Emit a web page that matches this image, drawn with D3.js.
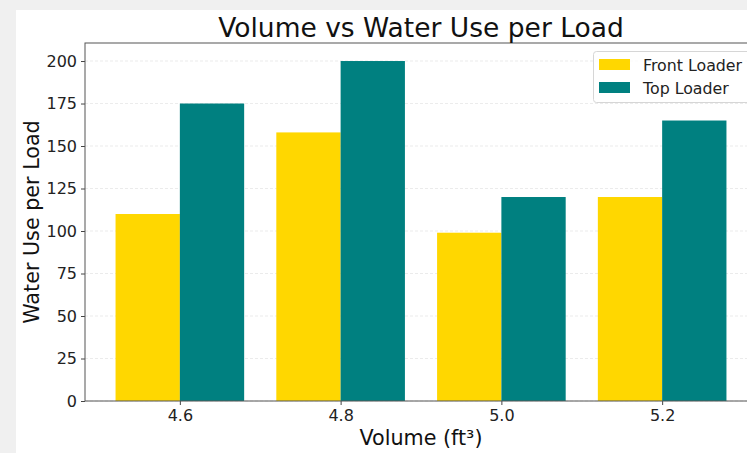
<!DOCTYPE html>
<html><head><meta charset="utf-8">
<script src="https://cdn.jsdelivr.net/npm/d3@7"></script>
<style>
html,body{margin:0;padding:0;background:#f0f0f0;}
svg{display:block;}
text{font-family:"DejaVu Sans",sans-serif;}
</style></head>
<body>
<script>
const categories = [4.6, 4.8, 5.0, 5.2];
const frontLoader = [110, 158, 99, 120];
const topLoader = [175, 200, 120, 165];
const yTicks = [0, 25, 50, 75, 100, 125, 150, 175, 200];
const seriesNames = ["Front Loader", "Top Loader"];
const colors = ["#FFD700", "#008080"];

const W = 747, H = 453;
const svg = d3.select("body").append("svg").attr("width", W).attr("height", H);
svg.append("rect").attr("x", 16).attr("y", 10).attr("width", W - 16).attr("height", H - 10).attr("fill", "#fff");

const m = {left: 85, top: 43, right: 757, bottom: 401};
const x = d3.scaleLinear().domain([4.482, 5.318]).range([m.left, m.right]);
const y = d3.scaleLinear().domain([0, 210.6]).range([m.bottom, m.top]);
const bw = 0.08;

const g = svg.append("g");
g.selectAll("line.grid").data(yTicks).enter().append("line")
  .attr("x1", m.left).attr("x2", m.right)
  .attr("y1", d => y(d)).attr("y2", d => y(d))
  .attr("stroke", "#e6e6e6").attr("stroke-width", 0.8).attr("stroke-dasharray", "3,2");

const series = [frontLoader, topLoader];
series.forEach((vals, si) => {
  const off = si === 0 ? -bw / 2 : bw / 2;
  g.selectAll("rect.s" + si).data(categories).enter().append("rect")
    .attr("x", (d) => x(d + off - bw / 2))
    .attr("width", (d) => x(d + off + bw / 2) - x(d + off - bw / 2))
    .attr("y", (d, i) => y(vals[i]))
    .attr("height", (d, i) => y(0) - y(vals[i]))
    .attr("fill", colors[si]);
});

const yAxis = d3.axisLeft(y).tickValues(yTicks).tickSize(4).tickPadding(4);
const ya = svg.append("g").attr("transform", `translate(${m.left},0)`).call(yAxis);
const xAxis = d3.axisBottom(x).tickValues(categories).tickFormat(d3.format(".1f")).tickSize(4).tickPadding(5);
const xa = svg.append("g").attr("transform", `translate(0,${m.bottom})`).call(xAxis);
[ya, xa].forEach(a => {
  a.select(".domain").remove();
  a.selectAll(".tick line").attr("stroke", "#444");
  a.selectAll(".tick text").attr("font-size", 16).attr("fill", "#222").attr("font-family", "DejaVu Sans");
});
svg.append("rect").attr("x", m.left).attr("y", m.top).attr("width", m.right - m.left).attr("height", m.bottom - m.top)
  .attr("fill", "none").attr("stroke", "#555").attr("stroke-width", 1);

svg.append("text").attr("x", (m.left + m.right) / 2).attr("y", 37).attr("text-anchor", "middle")
  .attr("font-size", 26.5).attr("fill", "#111").text("Volume vs Water Use per Load");
svg.append("text").attr("x", (m.left + m.right) / 2).attr("y", 445).attr("text-anchor", "middle")
  .attr("font-size", 20.7).attr("fill", "#111").text("Volume (ft³)");
svg.append("text").attr("transform", `translate(39,${(m.top + m.bottom) / 2}) rotate(-90)`).attr("text-anchor", "middle")
  .attr("font-size", 20.7).attr("fill", "#111").text("Water Use per Load");

const lg = svg.append("g");
lg.append("rect").attr("x", 593.5).attr("y", 51.5).attr("width", 170).attr("height", 51).attr("rx", 3)
  .attr("fill", "#fff").attr("fill-opacity", 0.8).attr("stroke", "#d6d6d6");
seriesNames.forEach((n, i) => {
  const yy = 59 + i * 23;
  lg.append("rect").attr("x", 599).attr("y", yy).attr("width", 31).attr("height", 11).attr("fill", colors[i]);
  lg.append("text").attr("x", 643).attr("y", yy + 12).attr("font-size", 15.8).attr("fill", "#222").text(n);
});
</script>
</body></html>
